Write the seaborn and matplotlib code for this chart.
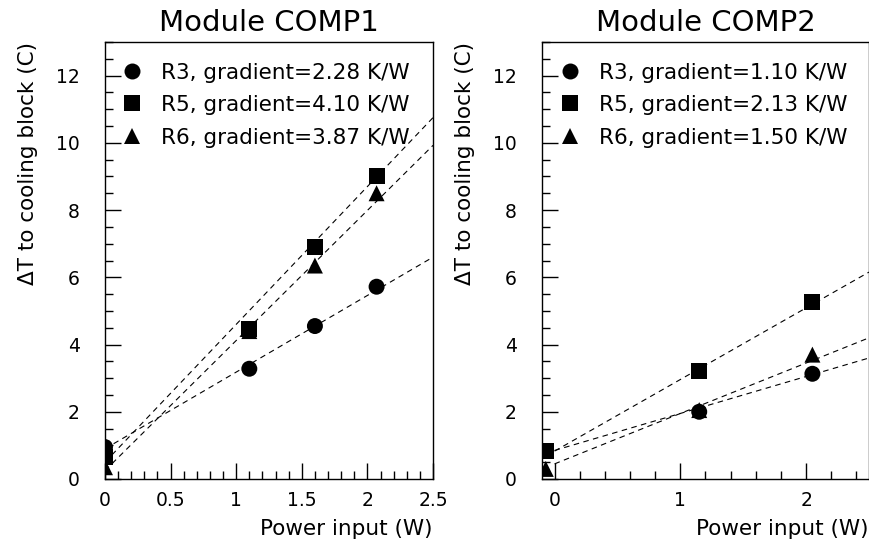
import matplotlib
matplotlib.use("Agg")
import matplotlib.pyplot as plt
from matplotlib.lines import Line2D
from matplotlib.ticker import MultipleLocator, FuncFormatter
import numpy as np
import pandas as pd
import seaborn as sns

# ---- measured temperature rise vs. injected power ----
series = ["R3", "R5", "R6"]
markers = ["o", "s", "^"]

# Module COMP1
power_comp1 = [0.0, 1.1, 1.6, 2.07]
r3_comp1 = [0.95, 3.28, 4.55, 5.72]
r5_comp1 = [0.65, 4.45, 6.90, 9.00]
r6_comp1 = [0.35, 4.40, 6.35, 8.50]
gradient_comp1 = [2.28, 4.10, 3.87]
offset_comp1 = [0.90, 0.50, 0.25]

# Module COMP2
power_comp2 = [-0.07, 1.15, 2.05]
r3_comp2 = [None, 2.00, 3.13]
r5_comp2 = [0.82, 3.20, 5.27]
r6_comp2 = [0.30, 2.05, 3.70]
gradient_comp2 = [1.10, 2.13, 1.50]
offset_comp2 = [0.85, 0.83, 0.45]

sns.set_style("ticks")
plt.rcParams["font.family"] = ["DejaVu Sans"]
plt.rcParams.update({
    "text.color": "black",
    "axes.labelcolor": "black",
    "axes.titlecolor": "black",
    "xtick.color": "black",
    "ytick.color": "black",
    "axes.edgecolor": "black",
})

fig = plt.figure(figsize=(8.7, 5.5), dpi=100)
ax1 = fig.add_axes([105 / 870, 71 / 550, 328 / 870, 437 / 550])
ax2 = fig.add_axes([542 / 870, 71 / 550, 327 / 870, 437 / 550])

FS_TICK = 13.5
FS_LEG = 15.5
FS_LAB = 15.5
FS_TITLE = 21
MS = 11.5


def fmt(v, _):
    return "%g" % v


def draw_module(ax, title, power, values, gradients, offsets, xlim, xmajor, xminor, leg_x):
    labels = [f"{s}, gradient={g:.2f} K/W" for s, g in zip(series, gradients)]
    rows = []
    for lab, vals in zip(labels, values):
        for x, y in zip(power, vals):
            if y is not None:
                rows.append({"power": x, "dT": y, "label": lab})
    pts = pd.DataFrame(rows)

    # straight-line fits: offset + gradient * power
    fits = []
    for lab, g, a in zip(labels, gradients, offsets):
        for x in (0.0, 2.5):
            fits.append({"power": x, "fit": a + g * x, "label": lab})
    fit_df = pd.DataFrame(fits)

    for lab in labels:
        sns.lineplot(data=fit_df[fit_df["label"] == lab], x="power", y="fit",
                     color="black", linewidth=0.8, linestyle=(0, (5, 4)),
                     ax=ax, legend=False)

    sns.scatterplot(data=pts, x="power", y="dT", style="label", style_order=labels,
                    markers=dict(zip(labels, markers)), color="black",
                    s=MS ** 2, linewidth=0, ax=ax, legend=False, zorder=3)

    ax.set_xlim(*xlim)
    ax.set_ylim(0, 13)
    ax.xaxis.set_major_locator(MultipleLocator(xmajor))
    ax.xaxis.set_minor_locator(MultipleLocator(xminor))
    ax.yaxis.set_major_locator(MultipleLocator(2))
    ax.yaxis.set_minor_locator(MultipleLocator(0.5))
    ax.xaxis.set_major_formatter(FuncFormatter(fmt))
    ax.yaxis.set_major_formatter(FuncFormatter(fmt))
    ax.tick_params(which="both", direction="in", top=False, right=False,
                   width=1, colors="black", labelsize=FS_TICK)
    ax.tick_params(which="major", length=11.5)
    ax.tick_params(which="minor", length=6)
    ax.tick_params(axis="y", which="major", pad=18)
    ax.tick_params(axis="x", which="major", pad=9)
    for sp in ax.spines.values():
        sp.set_visible(True)
        sp.set_linewidth(1)
        sp.set_color("black")

    ax.set_title(title, fontsize=FS_TITLE, pad=8)
    ax.set_xlabel("Power input (W)", fontsize=FS_LAB, loc="right")
    ax.set_ylabel("ΔT to cooling block (C)", fontsize=FS_LAB, loc="top")
    ax.xaxis.set_label_coords(1.0, -0.092)
    ax.yaxis.set_label_coords(-0.205, 1.0)

    handles = [Line2D([], [], marker=m, linestyle="none", color="black",
                      markersize=MS, markeredgewidth=0) for m in markers]
    ax.legend(handles, labels, loc="upper left", bbox_to_anchor=(leg_x, 0.953),
              frameon=False, fontsize=FS_LEG, borderpad=0, borderaxespad=0,
              handlelength=0.85, handletextpad=0.9, labelspacing=0.58)


draw_module(ax1, "Module COMP1", power_comp1, [r3_comp1, r5_comp1, r6_comp1],
            gradient_comp1, offset_comp1, (0, 2.5), 0.5, 0.1, 0.055)
draw_module(ax2, "Module COMP2", power_comp2, [r3_comp2, r5_comp2, r6_comp2],
            gradient_comp2, offset_comp2, (-0.1, 2.5), 1.0, 0.2, 0.058)

fig.savefig("out.png", dpi=100)
